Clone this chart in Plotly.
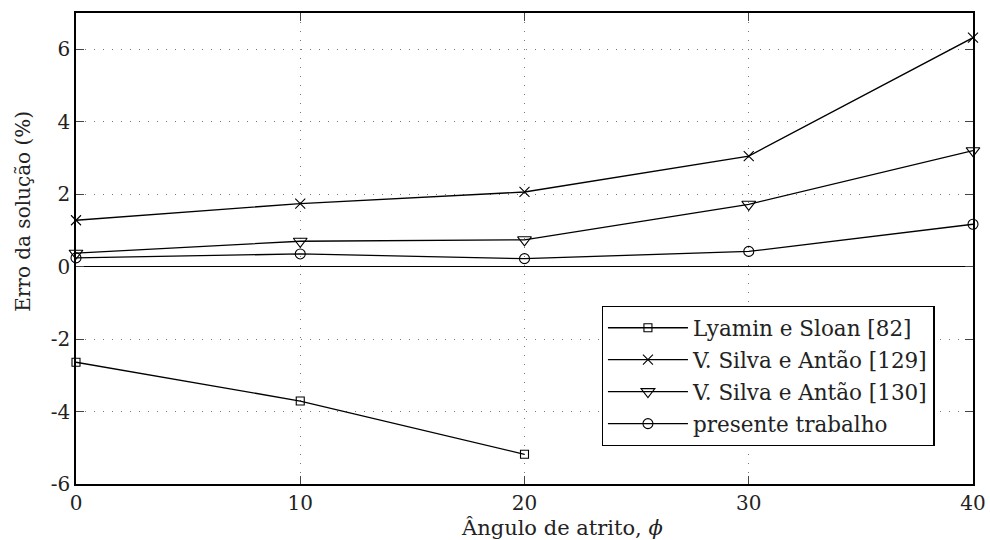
import plotly.graph_objects as go

# Friction angle (degrees)
phi = [0, 10, 20, 30, 40]

# Solution error (%) for each reference
lyamin_sloan_82 = [-2.64, -3.71, -5.18]
silva_antao_129 = [1.28, 1.74, 2.06, 3.05, 6.32]
silva_antao_130 = [0.37, 0.70, 0.74, 1.72, 3.20]
presente_trabalho = [0.24, 0.35, 0.22, 0.42, 1.17]

series_names = [
    "Lyamin e Sloan [82]",
    "V. Silva e Antão [129]",
    "V. Silva e Antão [130]",
    "presente trabalho",
]

x_ticks = [0, 10, 20, 30, 40]
x_ticktext = ["0", "10", "20", "30", "40"]
y_ticks = [-6, -4, -2, 0, 2, 4, 6]
y_ticktext = ["-6", "-4", "-2", "0", "2", "4", "6"]

x_title = "Ângulo de atrito, <i>ϕ</i>"
y_title = "Erro da solução (%)"

FONT = "DejaVu Serif"
FS = 20
TXT = "#222"

fig = go.Figure()

series = [
    (phi[:len(lyamin_sloan_82)], lyamin_sloan_82, "square-open", 8),
    (phi, silva_antao_129, "x-thin-open", 10),
    (phi, silva_antao_130, "triangle-down-open", 12),
    (phi, presente_trabalho, "circle-open", 10),
]

for i, ((xs, ys, sym, size), name) in enumerate(zip(series, series_names)):
    fig.add_trace(go.Scatter(
        x=xs, y=ys, name=name, mode="lines+markers", legendgroup=f"g{i}",
        line=dict(color="black", width=1.3),
        marker=dict(symbol=sym, size=size, color="black",
                    line=dict(color="black", width=1.1)),
        cliponaxis=False,
    ))

axis_common = dict(
    showline=True, linecolor="black", linewidth=1.5, mirror="allticks",
    ticks="inside", ticklen=8, tickwidth=1, tickcolor="#444",
    showgrid=True, gridcolor="#777", gridwidth=1, griddash="1px,8px",
    tickfont=dict(family=FONT, size=FS, color=TXT),
    automargin=False,
)

fig.update_xaxes(
    range=[0, 40], tickmode="array", tickvals=x_ticks, ticktext=x_ticktext,
    zeroline=False, **axis_common,
)
fig.update_yaxes(
    range=[-6, 7], tickmode="array", tickvals=y_ticks, ticktext=y_ticktext,
    zeroline=True, zerolinecolor="black", zerolinewidth=1.3,
    **axis_common,
)

# Axis titles
fig.add_annotation(
    text=x_title, xref="paper", yref="paper", x=0.542, y=-0.093,
    xanchor="center", yanchor="middle", showarrow=False,
    font=dict(family=FONT, size=21, color=TXT),
)
fig.add_annotation(
    text=y_title, xref="paper", yref="paper", x=-0.059, y=0.578,
    xanchor="center", yanchor="middle", showarrow=False, textangle=-90,
    font=dict(family=FONT, size=FS, color=TXT),
)

fig.update_layout(
    width=990, height=540,
    margin=dict(l=76, r=17, t=13, b=56),
    paper_bgcolor="white", plot_bgcolor="white",
    font=dict(family=FONT, size=FS, color=TXT),
    showlegend=True,
    legend=dict(
        x=0.586, y=0.378, xanchor="left", yanchor="top",
        bgcolor="white", bordercolor="black", borderwidth=1.3,
        font=dict(family=FONT, size=21.5, color=TXT),
        itemwidth=80, tracegroupgap=1,
    ),
)

fig.write_html("out.html")
